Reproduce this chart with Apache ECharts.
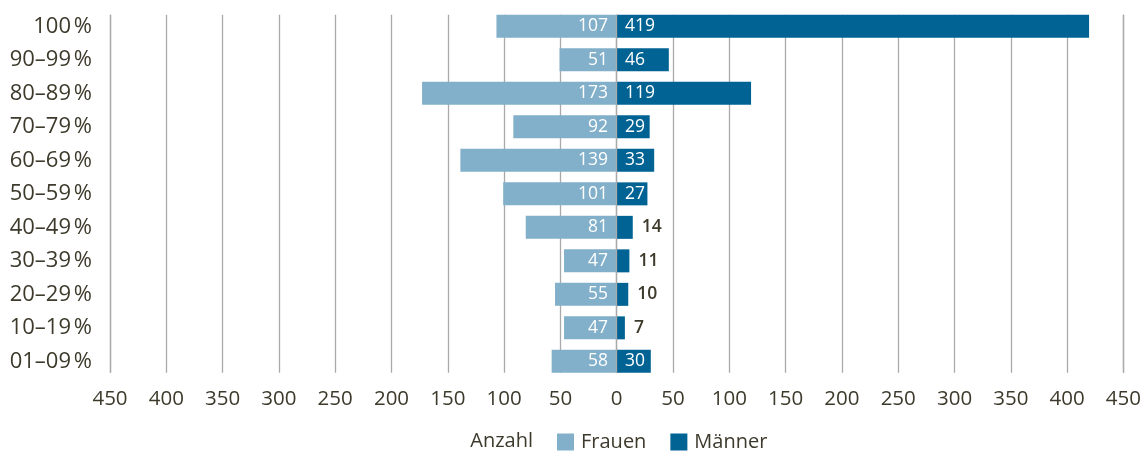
<!DOCTYPE html>
<html>
<head>
<meta charset="utf-8">
<script src="https://cdn.jsdelivr.net/npm/echarts@6/dist/echarts.min.js"></script>
<style>html,body{margin:0;padding:0;background:#fff;}#c{width:1144px;height:453px;}</style>
</head>
<body>
<div id="c"></div>
<script>
const categories = ['100\u202F%', '90–99\u202F%', '80–89\u202F%', '70–79\u202F%', '60–69\u202F%', '50–59\u202F%', '40–49\u202F%', '30–39\u202F%', '20–29\u202F%', '10–19\u202F%', '01–09\u202F%'];
const frauen = [107, 51, 173, 92, 139, 101, 81, 47, 55, 47, 58];
const maenner = [419, 46, 119, 29, 33, 27, 14, 11, 10, 7, 30];
const outsideThreshold = 20;

const FONT = 'Open Sans';
const TXT = '#3d3a2c';
const chart = echarts.init(document.getElementById('c'));
chart.setOption({
  animation: false,
  textStyle: { fontFamily: FONT },
  grid: [
    { left: 110, right: 20, top: 9.6, bottom: 74.9 },
    { left: 110, right: 20, top: 14.7, bottom: 80.3 }
  ],
  xAxis: [
    { gridIndex: 0, type: 'value', min: -450, max: 450, interval: 50, show: false, splitLine: { show: false } },
    { gridIndex: 1, type: 'value', min: -450, max: 450, interval: 50, position: 'bottom',
      axisLine: { show: false }, axisTick: { show: false },
      axisLabel: { margin: 16, fontSize: 20.5, color: TXT, fontFamily: FONT, formatter: v => String(Math.abs(v)) },
      splitLine: { show: true, lineStyle: { color: '#aaaaaa', width: 1.3 } }, z: 0 },
    { gridIndex: 1, type: 'value', min: -450, max: 450, interval: 450, position: 'top',
      axisLine: { show: false }, axisTick: { show: false }, axisLabel: { show: false },
      splitLine: { show: true, lineStyle: { color: '#aaaaaa', width: 1.3 } }, z: 5 }
  ],
  yAxis: [
    { gridIndex: 0, type: 'category', data: categories, inverse: true,
      axisLine: { show: false }, axisTick: { show: false },
      axisLabel: { margin: 18, fontSize: 22, color: TXT, fontFamily: FONT } },
    { gridIndex: 1, type: 'value', show: false, min: 0, max: 1 }
  ],
  legend: {
    left: 552, top: 427, itemWidth: 17, itemHeight: 17, itemGap: 24,
    icon: 'rect',
    textStyle: { fontSize: 20, color: TXT, fontFamily: FONT, padding: [0, 0, 0, 2] },
    data: ['Frauen', 'Männer']
  },
  graphic: [
    { type: 'text', right: 1144 - 533, top: 431,
      style: { text: 'Anzahl', fontSize: 20, fill: TXT, fontFamily: FONT } }
  ],
  series: [
    { name: 'Frauen', type: 'bar', xAxisIndex: 0, yAxisIndex: 0, barWidth: 23, barGap: '-100%',
      itemStyle: { color: '#82afc9' },
      data: frauen.map(v => -v),
      label: { show: true, position: 'insideRight', distance: 9, color: '#fff', fontSize: 17.5, fontFamily: FONT,
        formatter: p => String(Math.abs(p.value)) } },
    { name: 'Männer', type: 'bar', xAxisIndex: 0, yAxisIndex: 0, barWidth: 23, barGap: '-100%',
      itemStyle: { color: '#006394' },
      data: maenner.map(v => v < outsideThreshold
        ? { value: v, label: { position: 'right', distance: 9, color: TXT, fontWeight: 600 } }
        : v),
      label: { show: true, position: 'insideLeft', distance: 8, color: '#fff', fontSize: 17.5, fontFamily: FONT } }
  ]
});
</script>
</body>
</html>
